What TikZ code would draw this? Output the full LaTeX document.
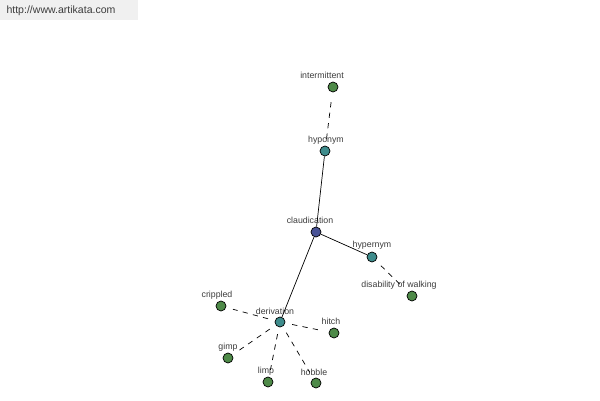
\documentclass[tikz,border=0pt]{standalone}
\usepackage{fontspec}
\setmainfont{Liberation Sans}
\usepackage{tikz}
\usetikzlibrary{positioning}

\definecolor{rootblue}{RGB}{72,82,150}
\definecolor{relteal}{RGB}{62,140,140}
\definecolor{leafgreen}{RGB}{78,138,72}
\definecolor{txtgray}{RGB}{60,60,60}

\begin{document}
\begin{tikzpicture}[x=0.02cm, y=-0.02cm,
  wnode/.style={circle, draw=black, line width=0.4pt, minimum size=0.2cm, inner sep=0pt},
  wroot/.style={wnode, fill=rootblue},
  wrel/.style={wnode, fill=relteal},
  wleaf/.style={wnode, fill=leafgreen},
  wlab/.style={font={\fontsize{5}{6}\selectfont}, text=txtgray, inner sep=0pt},
  solidedge/.style={line width=0.4pt},
  dashedge/.style={line width=0.4pt, dashed, dash pattern=on 3pt off 3pt, shorten <=4pt, shorten >=4pt}
]
\useasboundingbox (0,0) rectangle (600,400);
\fill[gray!12] (0,0) rectangle (138,20);
\node[font={\fontsize{6}{7}\selectfont}, text=txtgray, inner sep=0pt] (site) at (61,11) {http://www.artikata.com};

\node[wroot] (claud) at (316,232) {};
\node[wrel] (hypo) at (325,151) {};
\node[wrel] (hyper) at (372,257) {};
\node[wrel] (deriv) at (280,322) {};
\node[wleaf] (inter) at (333,87) {};
\node[wleaf] (disab) at (412,296) {};
\node[wleaf] (crip) at (221,306) {};
\node[wleaf] (hitch) at (334,333) {};
\node[wleaf] (gimp) at (228,358) {};
\node[wleaf] (limp) at (268,382) {};
\node[wleaf] (hobble) at (316,383) {};

\node[wlab] (claudl) at (310,220) {claudication};
\node[wlab] (hypol) at (326,140) {hyponym};
\node[wlab] (hyperl) at (372,245) {hypernym};
\node[wlab] (derivl) at (275,311) {derivation};
\node[wlab] (interl) at (322,75) {intermittent};
\node[wlab] (disabl) at (399,285) {disability of walking};
\node[wlab] (cripl) at (217,295) {crippled};
\node[wlab] (hitchl) at (331,321) {hitch};
\node[wlab] (gimpl) at (228,347) {gimp};
\node[wlab] (limpl) at (266,371) {limp};
\node[wlab] (hobblel) at (314,372) {hobble};

\draw[solidedge] (claud) -- (hypo);
\draw[solidedge] (claud) -- (hyper);
\draw[solidedge] (claud) -- (deriv);
\draw[dashedge] (hypo) -- (inter);
\draw[dashedge] (hyper) -- (disab);
\draw[dashedge] (deriv) -- (crip);
\draw[dashedge] (deriv) -- (hitch);
\draw[dashedge] (deriv) -- (gimp);
\draw[dashedge] (deriv) -- (limp);
\draw[dashedge] (deriv) -- (hobble);
\end{tikzpicture}
\end{document}
